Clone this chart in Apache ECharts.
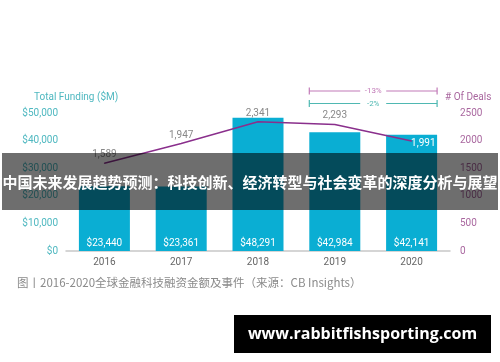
<!DOCTYPE html>
<html><head><meta charset="utf-8">
<script src="https://cdn.jsdelivr.net/npm/echarts@6/dist/echarts.min.js"></script>
<style>html,body{margin:0;padding:0;background:#fff}#c{width:500px;height:362px}</style>
</head><body><div id="c"></div>
<script>
const years = ['2016','2017','2018','2019','2020'];
const funding = [23440, 23361, 48291, 42984, 42141];
const deals = [1589, 1947, 2341, 2293, 1991];
const fundingTicks = [0, 10000, 20000, 30000, 40000, 50000];
const dealTicks = [0, 500, 1000, 1500, 2000, 2500];
const bannerText = '中国未来发展趋势预测：科技创新、经济转型与社会变革的深度分析与展望';
const captionText = '图丨2016-2020全球金融科技融资金额及事件（来源：CB Insights）';
const urlText = 'www.rabbitfishsporting.com';

const fmt = v => v.toString().replace(/\B(?=(\d{3})+(?!\d))/g, ',');
const chart = echarts.init(document.getElementById('c'));
const font = 'Roboto, "Noto Sans", sans-serif';
const barW = 51;
chart.setOption({
  animation: false,
  textStyle: {fontFamily: font},
  title: [
    {text: 'Total Funding ($M)', left: 29, top: 87, textStyle: {fontSize: 10, fontWeight: 'normal', color: '#4fb8c0', fontFamily: font}},
    {text: '# Of Deals', left: 440, top: 87, textStyle: {fontSize: 10, fontWeight: 'normal', color: '#a9679f', fontFamily: font}}
  ],
  grid: {left: 66, right: 50, top: 113, bottom: 111},
  xAxis: {
    type: 'category', data: years,
    axisLine: {lineStyle: {color: '#c8c8c8', width: 1.5}},
    axisTick: {show: false},
    axisLabel: {color: '#666', fontSize: 10, margin: 6}
  },
  yAxis: [
    {type: 'value', min: fundingTicks[0], max: fundingTicks[fundingTicks.length-1], interval: 10000,
     splitLine: {show: false}, axisLine: {show: false}, axisTick: {show: false},
     axisLabel: {color: '#4fb8c0', fontSize: 10, margin: 8, formatter: v => '$' + fmt(v)}},
    {type: 'value', min: dealTicks[0], max: dealTicks[dealTicks.length-1], interval: 500,
     splitLine: {show: false}, axisLine: {show: false}, axisTick: {show: false},
     axisLabel: {color: '#a9679f', fontSize: 10, margin: 10, formatter: v => String(v)}}
  ],
  series: [
    {type: 'bar', data: funding, barWidth: barW, itemStyle: {color: '#0aaed3'},
     label: {show: true, position: 'insideBottom', distance: 3, color: '#fff', fontSize: 10,
       formatter: p => '$' + fmt(p.value)}},
    {type: 'line', yAxisIndex: 1, data: deals.map((v, i) => i === deals.length - 1 ?
        {value: v, label: {position: 'right', color: '#fff', distance: 0, offset: [-1, 2]}} : v),
     symbol: 'circle', symbolSize: 1, itemStyle: {color: '#8a2f8c'},
     lineStyle: {color: '#8a2f8c', width: 1.5},
     label: {show: true, position: 'top', distance: 3, color: '#888', fontSize: 10, formatter: p => fmt(p.value)}}
  ]
});

const xL = chart.convertToPixel({xAxisIndex: 0}, years[3]) - barW / 2;
const xR = chart.convertToPixel({xAxisIndex: 0}, years[4]) + barW / 2;
function bracket(y, color, txt) {
  const mid = (xL + xR) / 2;
  return [
    {type: 'line', shape: {x1: xL, y1: y, x2: xR, y2: y}, style: {stroke: color, lineWidth: 1.2}, z: 10},
    {type: 'line', shape: {x1: xL, y1: y - 3.5, x2: xL, y2: y + 3.5}, style: {stroke: color, lineWidth: 1.2}, z: 10},
    {type: 'line', shape: {x1: xR, y1: y - 3.5, x2: xR, y2: y + 3.5}, style: {stroke: color, lineWidth: 1.2}, z: 10},
    {type: 'rect', shape: {x: mid - 13, y: y - 6, width: 26, height: 12}, style: {fill: '#fff'}, z: 11},
    {type: 'text', x: mid, y: y, style: {text: txt, fill: color, font: '8px ' + font, align: 'center', verticalAlign: 'middle'}, z: 12}
  ];
}
chart.setOption({graphic: [].concat(
  bracket(91, '#c27bb8', '-13%'),
  bracket(103.5, '#4fb8b2', '-2%'),
  [
    {type: 'text', x: 17, y: 283, style: {text: captionText, fill: '#8a8a8a', font: '11.5px "Noto Sans CJK SC", sans-serif', verticalAlign: 'middle'}, z: 20},
    {type: 'rect', shape: {x: 2, y: 153, width: 496, height: 57}, style: {fill: 'rgba(0,0,0,0.57)'}, z: 30},
    {type: 'text', x: 250, y: 182, style: {text: bannerText, fill: '#fff', font: 'bold 15px "Noto Sans CJK SC", sans-serif', align: 'center', verticalAlign: 'middle'}, z: 31},
    {type: 'rect', shape: {x: 234, y: 315, width: 257, height: 38}, style: {fill: '#000'}, z: 30},
    {type: 'text', x: 362.5, y: 334, style: {text: urlText, fill: '#fff', font: 'bold 16px "Open Sans", "DejaVu Sans", sans-serif', align: 'center', verticalAlign: 'middle'}, z: 31}
  ]
)});
</script></body></html>
